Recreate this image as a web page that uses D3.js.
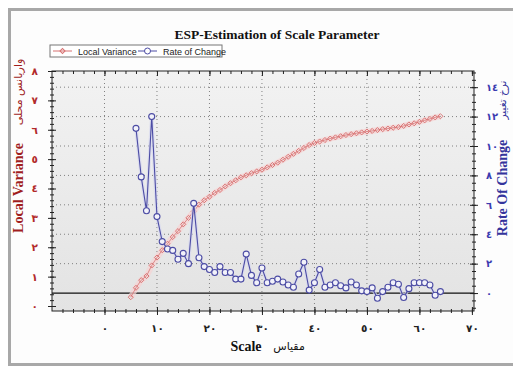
<!DOCTYPE html>
<html>
<head>
<meta charset="utf-8">
<script src="https://cdn.jsdelivr.net/npm/d3@7/dist/d3.min.js"></script>
<style>
  body { margin: 0; background: #fff; }
  svg { display: block; }
</style>
</head>
<body>
<svg id="chart" width="513" height="367"></svg>
<script>
// scale values (x) and the two series
const lvScale = [5,6,7,8,9,10,11,12,13,14,15,16,17,18,19,20,21,22,23,24,25,26,27,28,29,30,31,32,33,34,35,36,37,38,39,40,41,42,43,44,45,46,47,48,49,50,51,52,53,54,55,56,57,58,59,60,61,62,63,64];
const lvValues = [0.30,0.62,0.88,1.02,1.38,1.65,1.90,2.12,2.35,2.55,2.78,3.00,3.22,3.45,3.60,3.72,3.85,3.95,4.07,4.18,
                  4.28,4.38,4.45,4.52,4.58,4.64,4.72,4.80,4.88,4.98,5.08,5.18,5.28,5.38,5.48,5.55,5.60,5.65,5.70,5.74,
                  5.78,5.82,5.85,5.88,5.91,5.94,5.96,5.99,6.02,6.04,6.07,6.09,6.13,6.18,6.22,6.27,6.32,6.37,6.42,6.46];
const rocScale = [6,7,8,9,10,11,12,13,14,15,16,17,18,19,20,21,22,23,24,25,26,27,28,29,30,31,32,33,34,35,36,37,38,39,40,41,42,43,44,45,46,47,48,49,50,51,52,53,54,55,56,57,58,59,60,61,62,63,64];
const rocValues = [11.2,7.9,5.6,12.0,5.2,3.5,3.0,2.9,2.3,2.7,2.0,6.1,2.4,1.8,1.6,1.4,1.8,1.4,1.4,0.95,
                   0.95,2.65,1.2,0.7,1.7,0.7,0.8,0.95,0.75,0.55,0.4,1.3,2.1,0.2,0.7,1.6,0.4,0.55,0.7,0.5,
                   0.35,0.75,0.55,0.15,0.1,0.35,-0.35,0.1,0.4,0.7,0.6,-0.3,0.3,0.7,0.7,0.7,0.55,-0.15,0.1];

const xTicks = [0,10,20,30,40,50,60,70];
const lvTicks = [0,1,2,3,4,5,6,7,8];
const rocTicks = [0,2,4,6,8,10,12,14];

const toArabic = n => String(n).replace(/\d/g, d => "٠١٢٣٤٥٦٧٨٩"[+d]);

const svg = d3.select("#chart");
const margin = { top: 71, right: 39, bottom: 56, left: 52 };
const width = 513 - margin.left - margin.right;
const height = 367 - margin.top - margin.bottom;

const red = "#d77272", redDark = "#a01e1e";
const blue = "#4c4ca4", blueDark = "#34349c";

// outer frame
svg.append("rect").attr("x", 9.5).attr("y", 9.5).attr("width", 520).attr("height", 355)
   .attr("fill", "#fdfdfd").attr("stroke", "#a8a8a8").attr("stroke-width", 3);

const defs = svg.append("defs");
const grad = defs.append("linearGradient").attr("id", "bg").attr("x1", 0).attr("y1", 0).attr("x2", 0).attr("y2", 1);
grad.append("stop").attr("offset", "0%").attr("stop-color", "#f2f2f2");
grad.append("stop").attr("offset", "100%").attr("stop-color", "#e3e3e3");

const chart = svg.append("g").attr("transform", `translate(${margin.left},${margin.top})`);

chart.append("rect").attr("width", width).attr("height", height).attr("fill", "url(#bg)");

// scales
const x = d3.scaleLinear().domain([-10, 70.4]).range([0, width]);
const yL = d3.scaleLinear().domain([-0.17, 8]).range([height, 0]);
const yR = d3.scaleLinear().domain([-1.22, 15.1]).range([height, 0]);

// grid
chart.append("g").selectAll("line").data(xTicks.filter(d => d > -10 && d < 70)).enter().append("line")
     .attr("x1", d => x(d)).attr("x2", d => x(d)).attr("y1", 0).attr("y2", height)
     .attr("stroke", "#808080").attr("stroke-dasharray", "1,3");
chart.append("g").selectAll("line").data(rocTicks.filter(d => d > 0)).enter().append("line")
     .attr("x1", 0).attr("x2", width).attr("y1", d => yR(d)).attr("y2", d => yR(d))
     .attr("stroke", "#808080").attr("stroke-dasharray", "1,3");
chart.append("line").attr("x1", 0).attr("x2", width).attr("y1", yR(0)).attr("y2", yR(0))
     .attr("stroke", "#111").attr("stroke-width", 1.2);

// axes with ticks crossing the axis line
function crossTicks(g, horizontal, major) {
  const len = major ? 4 : 2;
  g.selectAll(".tick line").attr(horizontal ? "y1" : "x1", -len).attr(horizontal ? "y2" : "x2", len)
   .attr("stroke", "#222");
  g.select(".domain").remove();
}
function minors(lo, hi, step) {
  const out = [];
  for (let v = lo; v <= hi + 1e-9; v += step) out.push(+v.toFixed(3));
  return out;
}

// bottom
const gxMinor = chart.append("g").attr("transform", `translate(0,${height})`)
  .call(d3.axisBottom(x).tickValues(minors(-8, 70, 2)).tickFormat(""));
crossTicks(gxMinor, true, false);
const gx = chart.append("g").attr("transform", `translate(0,${height})`)
  .call(d3.axisBottom(x).tickValues(xTicks).tickFormat(toArabic).tickPadding(8));
crossTicks(gx, true, true);
gx.selectAll("text").attr("font-family", "DejaVu Sans").attr("font-size", 10.5).attr("font-weight", "bold")
  .attr("fill", "#222");

// top
const gtMinor = chart.append("g").call(d3.axisTop(x).tickValues(minors(-8, 70, 2)).tickFormat(""));
crossTicks(gtMinor, true, false);
gtMinor.selectAll(".tick line").attr("y1", 0).attr("y2", 3);
const gt = chart.append("g").call(d3.axisTop(x).tickValues(xTicks).tickFormat(""));
crossTicks(gt, true, true);
gt.selectAll(".tick line").attr("y1", 0).attr("y2", 5);

// left
const gyMinor = chart.append("g").call(d3.axisLeft(yL).tickValues(minors(0, 8, 0.2)).tickFormat(""));
crossTicks(gyMinor, false, false);
const gy = chart.append("g").call(d3.axisLeft(yL).tickValues(lvTicks).tickFormat(toArabic).tickPadding(8));
crossTicks(gy, false, true);
gy.selectAll("text").attr("font-family", "DejaVu Sans").attr("font-size", 10.5).attr("font-weight", "bold")
  .attr("fill", "#b22a2a");

// right
const grMinor = chart.append("g").attr("transform", `translate(${width},0)`)
  .call(d3.axisRight(yR).tickValues(minors(-1, 15, 0.5)).tickFormat(""));
crossTicks(grMinor, false, false);
const gr = chart.append("g").attr("transform", `translate(${width},0)`)
  .call(d3.axisRight(yR).tickValues(rocTicks).tickFormat(toArabic).tickPadding(6));
crossTicks(gr, false, true);
gr.selectAll("text").attr("font-family", "DejaVu Sans").attr("font-size", 10).attr("font-weight", "bold")
  .attr("fill", "#3b3bb0");

// frame lines of the plot
chart.append("rect").attr("width", width).attr("height", height).attr("fill", "none")
     .attr("stroke", "#222").attr("stroke-width", 1);

// series: local variance
const lvData = lvScale.map((s, i) => ({ s, v: lvValues[i] }));
const lvLine = d3.line().x(d => x(d.s)).y(d => yL(d.v));
chart.append("path").datum(lvData).attr("d", lvLine).attr("fill", "none")
     .attr("stroke", "#f7d3d3").attr("stroke-width", 6).attr("stroke-linejoin", "round").attr("opacity", 0.7);
chart.append("path").datum(lvData).attr("d", lvLine).attr("fill", "none")
     .attr("stroke", red).attr("stroke-width", 0.8);
const diamond = d3.symbol().type(d3.symbolSquare).size(13);
chart.append("g").selectAll("path").data(lvData).enter().append("path")
     .attr("d", diamond).attr("transform", d => `translate(${x(d.s)},${yL(d.v)}) rotate(45)`)
     .attr("fill", "none").attr("stroke", red).attr("stroke-width", 0.9);

// series: rate of change
const rocData = rocScale.map((s, i) => ({ s, v: rocValues[i] }));
const rocLine = d3.line().x(d => x(d.s)).y(d => yR(d.v));
chart.append("path").datum(rocData).attr("d", rocLine).attr("fill", "none")
     .attr("stroke", "#d6d7f0").attr("stroke-width", 3.5).attr("stroke-linejoin", "round").attr("opacity", 0.7);
chart.append("path").datum(rocData).attr("d", rocLine).attr("fill", "none")
     .attr("stroke", blue).attr("stroke-width", 1.1);
chart.append("g").selectAll("circle").data(rocData).enter().append("circle")
     .attr("cx", d => x(d.s)).attr("cy", d => yR(d.v)).attr("r", 3)
     .attr("fill", "#f2f2fa").attr("stroke", blue).attr("stroke-width", 1.1);

// title
svg.append("text").attr("x", 277).attr("y", 39).attr("text-anchor", "middle")
   .attr("font-family", "Liberation Serif, Times New Roman, serif").attr("font-weight", "bold")
   .attr("font-size", 13.5).attr("fill", "#111").text("ESP-Estimation of Scale Parameter");

// legend
const lg = svg.append("g").attr("transform", "translate(50,45)");
lg.append("rect").attr("width", 172).attr("height", 12).attr("fill", "#fff").attr("stroke", "#777");
lg.append("line").attr("x1", 3).attr("x2", 22).attr("y1", 6).attr("y2", 6).attr("stroke", red);
lg.append("path").attr("d", diamond).attr("transform", "translate(12.5,6) rotate(45)").attr("fill", "none").attr("stroke", red);
lg.append("text").attr("x", 28).attr("y", 9.5).attr("font-family", "Liberation Sans, Arial, sans-serif")
  .attr("font-size", 9).attr("fill", "#222").text("Local Variance");
lg.append("line").attr("x1", 88).attr("x2", 107).attr("y1", 6).attr("y2", 6).attr("stroke", blue);
lg.append("circle").attr("cx", 97.5).attr("cy", 6).attr("r", 3).attr("fill", "#fff").attr("stroke", blue);
lg.append("text").attr("x", 113).attr("y", 9.5).attr("font-family", "Liberation Sans, Arial, sans-serif")
  .attr("font-size", 9).attr("fill", "#222").text("Rate of Change");

// axis titles
svg.append("text").attr("transform", "translate(23,188) rotate(-90)").attr("text-anchor", "middle")
   .attr("font-family", "Liberation Serif, serif").attr("font-weight", "bold").attr("font-size", 14)
   .attr("fill", redDark).text("Local Variance");
svg.append("text").attr("transform", "translate(22,92) rotate(-90)").attr("text-anchor", "middle")
   .attr("font-family", "DejaVu Sans").attr("font-size", 11).attr("fill", redDark).text("واریانس محلی");

svg.append("text").attr("transform", "translate(507,188) rotate(-90)").attr("text-anchor", "middle")
   .attr("font-family", "Liberation Serif, serif").attr("font-weight", "bold").attr("font-size", 14)
   .attr("fill", blueDark).text("Rate Of Change");
svg.append("text").attr("transform", "translate(506,100) rotate(-90)").attr("text-anchor", "middle")
   .attr("font-family", "DejaVu Sans").attr("font-size", 10.5).attr("fill", blueDark).text("نرخ تغییر");

svg.append("text").attr("x", 246).attr("y", 351).attr("text-anchor", "middle")
   .attr("font-family", "Liberation Serif, serif").attr("font-weight", "bold").attr("font-size", 14)
   .attr("fill", "#111").text("Scale");
svg.append("text").attr("x", 289).attr("y", 350).attr("text-anchor", "middle")
   .attr("font-family", "DejaVu Sans").attr("font-size", 11).attr("fill", "#111").text("مقیاس");
</script>
</body>
</html>
